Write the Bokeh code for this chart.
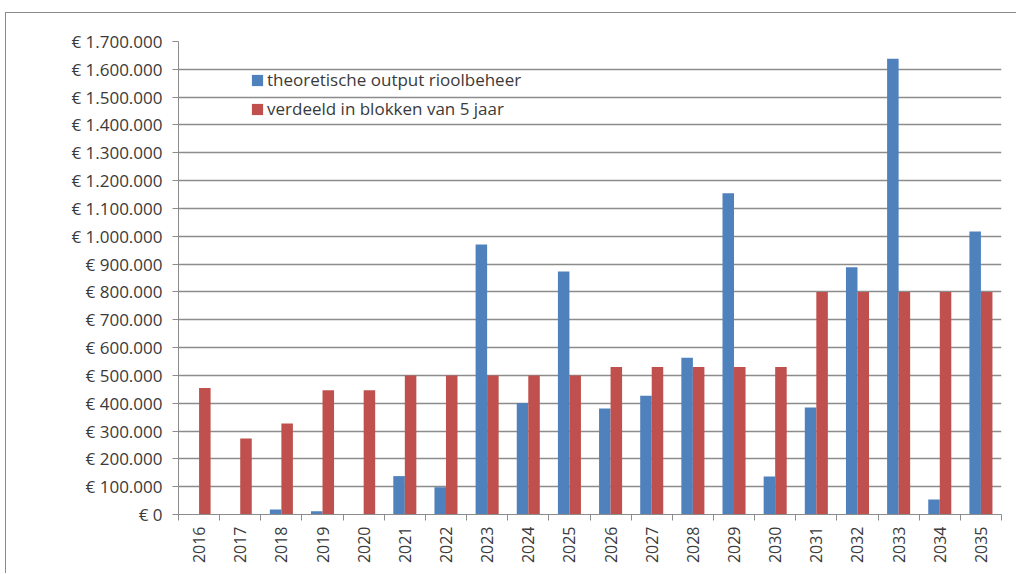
import numpy as np
from bokeh.plotting import figure
from bokeh.models import ColumnDataSource, FixedTicker, Legend, LegendItem, Range1d
from bokeh.transform import dodge
from bokeh.embed import file_html
from bokeh.resources import INLINE

years = [str(y) for y in range(2016, 2036)]
theoretisch = [0, 0, 18000, 12000, 0, 138000, 98000, 970000, 401000, 873000,
               381000, 427000, 563000, 1155000, 137000, 385000, 889000, 1638000, 54000, 1017000]
verdeeld = [455000, 273000, 327000, 447000, 447000, 500000, 500000, 500000, 500000, 500000,
            530000, 530000, 530000, 530000, 530000, 800000, 800000, 800000, 800000, 800000]
y_ticks = list(range(0, 1700001, 100000))
series_names = ["theoretische output rioolbeheer", "verdeeld in blokken van 5 jaar"]

BLUE = "#4F81BD"
RED = "#C0504D"
GRID = "#8c8c8c"
TEXT = "#3a3a3a"
FONT = "Open Sans"

xpos = np.arange(len(years)) + 0.5
src = ColumnDataSource(dict(x=xpos, t=theoretisch, v=verdeeld))

p = figure(width=1011, height=561, x_range=Range1d(0, len(years)), y_range=Range1d(0, 1700000),
           output_backend="svg", toolbar_location=None,
           min_border_left=172, min_border_right=16, min_border_top=28, min_border_bottom=60)
p.styles = {"margin-left": "5px", "margin-top": "12px",
            "border-left": "1px solid #8a8a8a", "border-top": "1px solid #8a8a8a"}
p.outline_line_color = None
p.background_fill_color = "white"

r1 = p.vbar(x=dodge("x", -0.14), top="t", width=0.28, source=src, fill_color=BLUE, line_color=None)
r2 = p.vbar(x=dodge("x", 0.14), top="v", width=0.28, source=src, fill_color=RED, line_color=None)

# grid
p.xgrid.grid_line_color = None
p.ygrid.grid_line_color = GRID
p.ygrid.grid_line_width = 1.3

# y axis
yax = p.yaxis[0]
yax.ticker = FixedTicker(ticks=y_ticks)
yax.major_label_overrides = {v: ("€ " + f"{v:,}".replace(",", ".")) for v in y_ticks}
yax.axis_line_color = GRID
yax.major_tick_line_color = GRID
yax.major_tick_out = 6
yax.major_tick_in = 0
yax.minor_tick_line_color = None
yax.major_label_standoff = 10
yax.major_label_text_font = FONT
yax.major_label_text_font_size = "17px"
yax.major_label_text_color = TEXT

# x axis
xax = p.xaxis[0]
xax.ticker = FixedTicker(ticks=list(xpos), minor_ticks=list(range(len(years) + 1)))
xax.major_label_overrides = {float(xv): yr for xv, yr in zip(xpos, years)}
xax.axis_line_color = GRID
xax.major_tick_line_color = None
xax.major_tick_out = 6
xax.major_tick_in = 0
xax.minor_tick_line_color = GRID
xax.minor_tick_out = 6
xax.minor_tick_in = 0
xax.major_label_standoff = 6
xax.major_label_orientation = np.pi / 2
xax.major_label_text_font = FONT
xax.major_label_text_font_size = "16px"
xax.major_label_text_color = TEXT

legend = Legend(items=[LegendItem(label=series_names[0], renderers=[r1]),
                       LegendItem(label=series_names[1], renderers=[r2])],
                location=(72, 394))
legend.padding = 0
legend.margin = 0
legend.spacing = 6
legend.glyph_width = 14
legend.glyph_height = 14
legend.label_height = 20
legend.label_standoff = 3
legend.background_fill_alpha = 0
legend.border_line_color = None
legend.label_text_font = FONT
legend.label_text_font_size = "17px"
legend.label_text_color = TEXT
p.add_layout(legend)

open("out.html", "w").write(file_html(p, INLINE))
